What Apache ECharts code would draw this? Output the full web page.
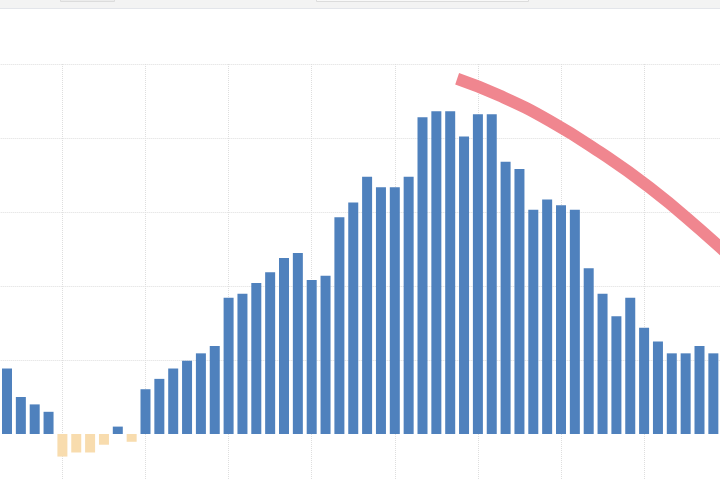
<!DOCTYPE html>
<html>
<head>
<meta charset="utf-8">
<script src="https://cdn.jsdelivr.net/npm/echarts@6/dist/echarts.min.js"></script>
<style>
html,body{margin:0;padding:0;background:#fff;overflow:hidden;width:720px;height:480px;}
#main{position:absolute;left:-28px;top:0;width:776px;height:520px;}
</style>
</head>
<body>
<div id="main"></div>
<script>
// Category labels (no labels are visible in the cropped view)
var categories = ['P01','P02','P03','P04','P05','P06','P07','P08','P09','P10',
  'P11','P12','P13','P14','P15','P16','P17','P18','P19','P20',
  'P21','P22','P23','P24','P25','P26','P27','P28','P29','P30',
  'P31','P32','P33','P34','P35','P36','P37','P38','P39','P40',
  'P41','P42','P43','P44','P45','P46','P47','P48','P49','P50',
  'P51','P52'];

// Bar values (one gridline = 10 units)
var barValues = [8.85, 5.0, 4.0, 3.0, -3.05, -2.5, -2.5, -1.45, 1.0, -1.05,
  6.05, 7.45, 8.85, 9.9, 10.9, 11.9, 18.4, 18.95, 20.4, 21.85,
  23.8, 24.45, 20.8, 21.4, 29.3, 31.3, 34.75, 33.35, 33.35, 34.75,
  42.8, 43.6, 43.6, 40.2, 43.2, 43.2, 36.8, 35.8, 30.3, 31.7,
  30.9, 30.3, 22.4, 18.95, 15.9, 18.4, 14.35, 12.5, 10.9, 10.9,
  11.9, 10.9];

// Curve: x positions measured in category steps, and values
var curveX = [34.5, 37.6, 41.2, 44.8, 48.4, 52.0, 55.0];
var curveY = [48.0, 45.7, 42.3, 38.1, 33.3, 27.7, 22.6];

var yTicks = [-10, 0, 10, 20, 30, 40, 50];

var PAD_LEFT = 2, PAD_RIGHT = 2;
var axisCats = [];
var barData = [];
for (var i = 0; i < PAD_LEFT; i++) { axisCats.push(''); barData.push(null); }
for (var j = 0; j < categories.length; j++) { axisCats.push(categories[j]); barData.push(barValues[j]); }
for (var k = 0; k < PAD_RIGHT; k++) { axisCats.push(' ' + k); barData.push(null); }
var nCat = axisCats.length;

var curveData = curveX.map(function (x, i) { return [x, curveY[i]]; });

var OX = 28; // container offset
var chart = echarts.init(document.getElementById('main'), null, {renderer: 'canvas'});
var gridColor = '#dedede';
chart.setOption({
  animation: false,
  backgroundColor: '#ffffff',
  grid: {left: 7.3, right: 6.95, top: 64, bottom: 12, containLabel: false},
  xAxis: [{
    type: 'category',
    data: axisCats,
    boundaryGap: false,
    axisLine: {show: false},
    axisTick: {show: false},
    axisLabel: {show: false},
    splitLine: {show: true, interval: 5, lineStyle: {type: 'dotted', color: gridColor, width: 1}}
  }, {
    type: 'value',
    min: 0,
    max: nCat - 1,
    show: false,
    splitLine: {show: false}
  }],
  yAxis: {
    type: 'value',
    min: yTicks[0],
    max: yTicks[yTicks.length - 1],
    interval: 10,
    axisLine: {show: false},
    axisTick: {show: false},
    axisLabel: {show: false},
    splitLine: {show: true, lineStyle: {type: 'dotted', width: 1,
      color: yTicks.map(function (t) { return t === 0 ? 'rgba(0,0,0,0)' : gridColor; })}}
  },
  series: [{
    type: 'bar',
    data: barData,
    barWidth: 10,
    clip: false,
    itemStyle: {
      color: function (p) { return p.value < 0 ? '#f8dcae' : '#4f81bd'; }
    }
  }, {
    type: 'line',
    xAxisIndex: 1,
    yAxisIndex: 0,
    data: curveData,
    smooth: true,
    symbol: 'none',
    lineStyle: {width: 12, color: '#f0868f', cap: 'butt'}
  }],
  graphic: [
    {type: 'rect', shape: {x: OX, y: 0, width: 720, height: 8}, style: {fill: '#f3f3f3'}, z: 100},
    {type: 'line', shape: {x1: OX, y1: 8.5, x2: OX + 720, y2: 8.5}, style: {stroke: '#e3e5ea', lineWidth: 1}, z: 101},
    {type: 'rect', shape: {x: OX + 60.5, y: -6, width: 54, height: 7.5}, style: {fill: '#ececec', stroke: '#dcdcdc', lineWidth: 1}, z: 102},
    {type: 'rect', shape: {x: OX + 316.5, y: -6, width: 212, height: 7.5}, style: {fill: '#f8f8f8', stroke: '#dcdcdc', lineWidth: 1}, z: 102}
  ]
});
</script>
</body>
</html>
